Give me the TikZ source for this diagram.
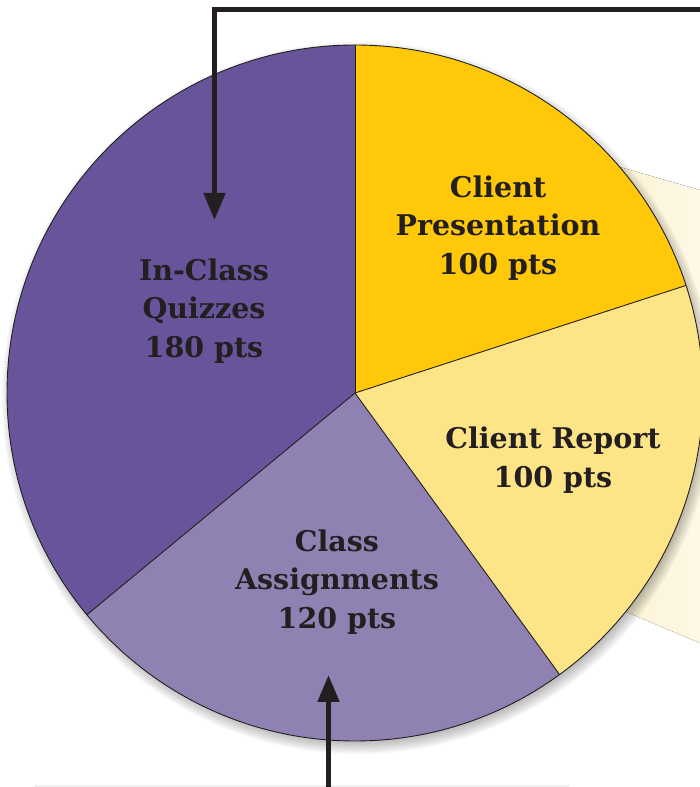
\documentclass[tikz,border=0pt]{standalone}
\usepackage{fontspec}
\usepackage{tikz}
\usetikzlibrary{positioning}
\usetikzlibrary{arrows.meta, calc}

\newfontfamily\slabfont{DejaVu Serif}[BoldFont={DejaVu Serif Bold}]

\definecolor{quizpurple}{HTML}{67549A}
\definecolor{assignpurple}{HTML}{9081B3}
\definecolor{presgold}{HTML}{FFC808}
\definecolor{reportyellow}{HTML}{FDE486}
\definecolor{beamleft}{HTML}{F8EEC6}
\definecolor{beamright}{HTML}{FEF9E6}
\definecolor{inkdark}{HTML}{231F20}

\tikzset{
  slicelabel/.style={align=center, text=inkdark,
    font=\slabfont\bfseries\fontsize{28.5}{38.5}\selectfont},
  slicerim/.style={draw=inkdark, line width=0.9pt},
  pointer/.style={draw=inkdark, line width=5pt,
    -{Triangle[length=27pt,width=21pt]}}
}

\begin{document}
\begin{tikzpicture}[x=1pt,y=1pt]
    \useasboundingbox (0,0) rectangle (700,787);
    \clip (0,0) rectangle (700,787);

    % pale beam behind the pie
    \fill[left color=beamleft, right color=beamright]
        (560,637) -- (700,597) -- (700,144) -- (560,203) -- cycle;

    % faint edge at the bottom
    \draw[gray!12, line width=1.5pt] (35,1) -- (570,1);

    % soft shadow
    \coordinate (c) at (355,394);
    \foreach \s in {1,...,10}
        \fill[black, opacity=0.035] ($(c)+(3,-5)$) circle[radius=340+1.6*\s];

    % slices
    \fill[presgold]     (c) -- ++(90:348)  arc[start angle=90,  end angle=18,    radius=348] -- cycle;
    \fill[reportyellow] (c) -- ++(18:348)  arc[start angle=18,  end angle=-54,   radius=348] -- cycle;
    \fill[assignpurple] (c) -- ++(-54:348) arc[start angle=-54, end angle=-140.4, radius=348] -- cycle;
    \fill[quizpurple]   (c) -- ++(-140.4:348) arc[start angle=-140.4, end angle=-270, radius=348] -- cycle;

    % rims
    \draw[slicerim] (c) circle[radius=348];
    \foreach \a in {90,18,-54,-140.4}
        \draw[slicerim] (c) -- ++(\a:348);

    % labels
    \node[slicelabel] (quizzes) at (204,476) {In-Class\\Quizzes\\180 pts};
    \node[slicelabel] (presentation) at (498,559) {Client\\Presentation\\100 pts};
    \node[slicelabel] (report) at (553,327) {Client Report\\100 pts};
    \node[slicelabel] (assignments) at (337,205) {Class\\Assignments\\120 pts};

    % pointers
    \coordinate (topfeed) at (702,777.5);
    \coordinate (topbend) at (214.5,777.5);
    \coordinate (quiztip) at (214.5,567);
    \draw[pointer] (topfeed) -- (topbend) -- (quiztip);

    \coordinate (bottomfeed) at (328.5,-2);
    \coordinate (assigntip) at (328.5,112);
    \draw[pointer] (bottomfeed) -- (assigntip);
\end{tikzpicture}
\end{document}
